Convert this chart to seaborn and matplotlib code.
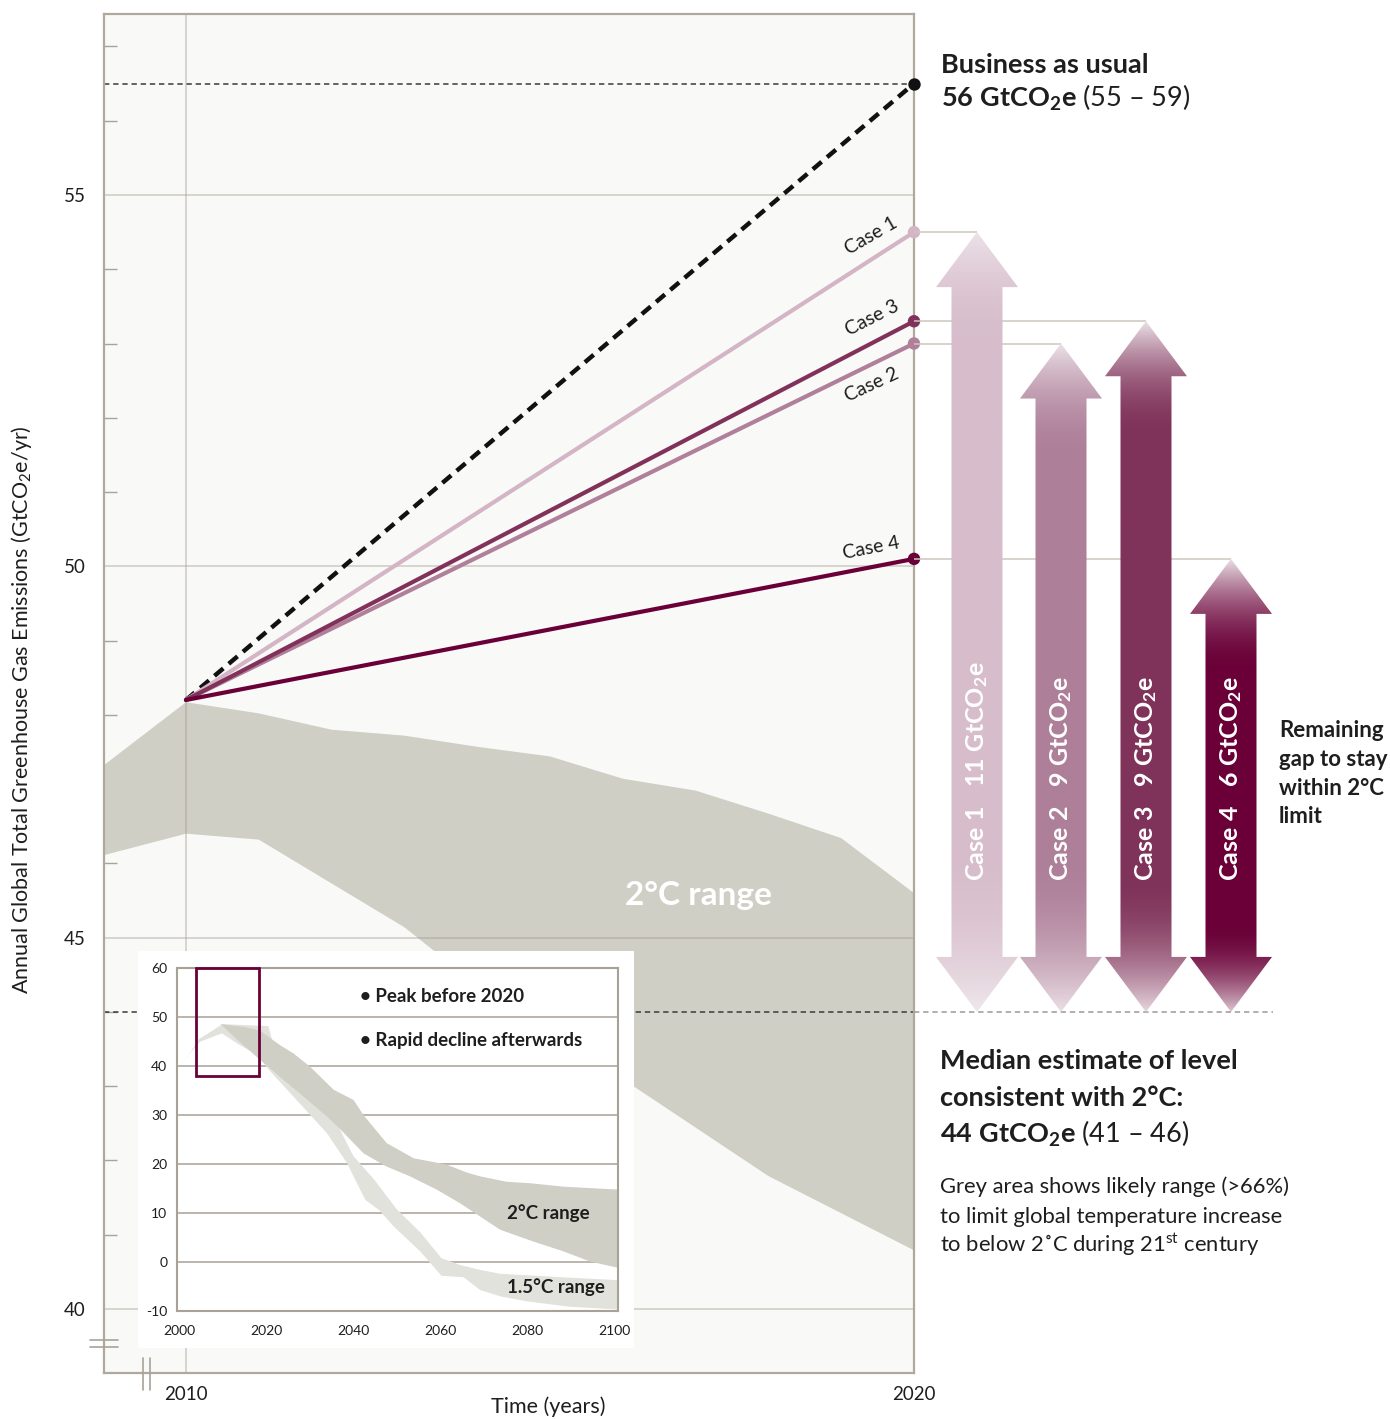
import numpy as np
import pandas as pd
import matplotlib
matplotlib.use("Agg")
import matplotlib.pyplot as plt
import seaborn as sns
from matplotlib.patches import Polygon, Rectangle
from matplotlib.lines import Line2D
from matplotlib.colors import to_rgb
from matplotlib.ticker import MultipleLocator

# ---------------- data ----------------
base_year = 2010
end_year = 2020
start_level = 48.2
bau_level = 56.5
case_names = ["Case 1", "Case 2", "Case 3", "Case 4"]
case_levels = [54.5, 53.0, 53.3, 50.1]
case_colors = ["#d3b5c5", "#b0809a", "#82325a", "#6a0037"]
gap_values = [11, 9, 9, 6]
median_level = 44.0

band_upper_years = [2008.87, 2010, 2011, 2012, 2013, 2014, 2015, 2016, 2017, 2018, 2019, 2020]
band_upper_vals = [47.32, 48.17, 48.02, 47.80, 47.72, 47.57, 47.44, 47.14, 46.98, 46.67, 46.34, 45.60]
band_lower_years = [2008.87, 2010, 2011, 2012, 2013, 2014, 2015, 2016.1, 2018, 2020]
band_lower_vals = [46.11, 46.40, 46.32, 45.73, 45.14, 44.36, 43.69, 43.03, 41.79, 40.79]

main_yticks = [40, 45, 50, 55]
main_xticks = [2010, 2020]

# inset: 1.5 C range (light)
r15_upper_years = [2000, 2002, 2004.5, 2010, 2020.5, 2021.5, 2026, 2032, 2037, 2040.1, 2044.7, 2047.7,
                   2050, 2055.5, 2060.3, 2064.6, 2069.2, 2073.8, 2080, 2090, 2101]
r15_upper_vals = [40, 42, 45.5, 48.6, 48.2, 45.0, 40.0, 33.5, 27.0, 21.6, 17.0, 13.5,
                  10.8, 6.0, 0.8, -0.6, -1.6, -2.4, -2.7, -3.2, -3.7]
r15_lower_years = [2000, 2004.8, 2009.8, 2014, 2018, 2021, 2027, 2034, 2038.6, 2042.8, 2046, 2049.3,
                   2055.4, 2060.3, 2065.4, 2069.2, 2073.8, 2079.8, 2089.4, 2101]
r15_lower_vals = [40, 45, 46.7, 44.3, 42.3, 38.9, 33.1, 26.3, 20.2, 12.7, 10.6, 7.3,
                  2.2, -2.8, -3.1, -5.7, -7.0, -8.0, -9.1, -9.7]
# inset: 2 C range (darker)
r2_upper_years = [2009.5, 2015, 2018.5, 2021, 2023.2, 2026.3, 2030.1, 2035.5, 2040.1, 2042.4, 2047.7,
                  2053.9, 2061.5, 2066.1, 2069.2, 2075.3, 2080.7, 2088.3, 2101]
r2_upper_vals = [48.6, 48.0, 47.3, 45.7, 44.3, 42.6, 39.9, 35.2, 33.1, 30.0, 24.3,
                 21.2, 19.9, 18.3, 17.5, 16.4, 16.1, 15.4, 14.8]
r2_lower_years = [2009.5, 2014, 2018.6, 2024, 2028.6, 2034, 2037.4, 2042.4, 2047.7, 2053.1,
                  2059.2, 2064.6, 2069.2, 2073.8, 2081.4, 2088.3, 2094.5, 2101]
r2_lower_vals = [48.6, 44.9, 41.3, 37.2, 33.8, 29.7, 26.8, 22.2, 19.5, 17.5,
                 14.8, 12.0, 9.3, 6.6, 4.2, 2.2, 0.1, -1.2]
inset_yticks = [-10, 0, 10, 20, 30, 40, 50, 60]
inset_xticks = [2000, 2020, 2040, 2060, 2080, 2100]
focus_years = [2003.8, 2018.3]
focus_levels = [38.0, 60.0]

# ---------------- style ----------------
sns.set_theme(style="white")
plt.rcParams["font.family"] = ["Lato", "DejaVu Sans"]
plt.rcParams["mathtext.fontset"] = "custom"
plt.rcParams["mathtext.rm"] = "Lato"
plt.rcParams["mathtext.bf"] = "Lato:bold"
plt.rcParams["mathtext.it"] = "Lato:italic"

W, H = 1390, 1419
fig = plt.figure(figsize=(W / 100, H / 100), dpi=100)
fig.patch.set_facecolor("white")


def fx(x):
    return x / W


def fy(y):
    return 1 - y / H


def ftext(x, y, s, **kw):
    return fig.text(fx(x), fy(y), s, **kw)


TXT = "#1e1e1e"
SPINE = "#aea89d"
BAND = "#cfcfc6"

# ---------------- main axes ----------------
ax = fig.add_axes([fx(104), fy(1373), fx(914) - fx(104), fy(14) - fy(1373)])
ax.set_facecolor("#f9f9f7")
ylo, yhi = 39.138, 57.437
ax.set_xlim(2008.874, 2020)
ax.set_ylim(ylo, yhi)

ax.fill(np.concatenate([band_upper_years, band_lower_years[::-1]]),
        np.concatenate([band_upper_vals, band_lower_vals[::-1]]),
        color=BAND, lw=0, zorder=1)

for yv in main_yticks:
    ax.axhline(yv, color="#a0978a", alpha=0.4, lw=1.3, zorder=1.5)
ax.axvline(main_xticks[0], color="#a0978a", alpha=0.4, lw=1.3, zorder=1.5)

# reference dashed lines
ax.axhline(bau_level, color="#3a3a3a", lw=1.1, dashes=(3.5, 2.5), zorder=2)
ax.axhline(median_level, color="#3a3a3a", lw=1.1, dashes=(3.5, 2.5), zorder=2)

# business as usual
ax.plot([base_year, end_year], [start_level, bau_level], color="#111111", lw=3.2,
        dashes=(2.6, 1.6), zorder=4, solid_capstyle="butt")
ax.scatter([end_year], [bau_level], s=80, color="#111111", zorder=7, clip_on=False, lw=0)

rows = []
for n, v in zip(case_names, case_levels):
    rows.append((n, base_year, start_level))
    rows.append((n, end_year, v))
df = pd.DataFrame(rows, columns=["case", "year", "value"])
pal = dict(zip(case_names, case_colors))
sns.lineplot(data=df, x="year", y="value", hue="case", hue_order=case_names,
             palette=pal, linewidth=3.0, legend=False, ax=ax, zorder=5)
sns.scatterplot(data=df[df.year == end_year], x="year", y="value", hue="case",
                hue_order=case_names, palette=pal, s=80, legend=False, ax=ax,
                zorder=6, linewidth=0, clip_on=False)

ax.set_xlabel("")
ax.set_ylabel("")
ax.set_xticks(main_xticks)
ax.set_xticklabels([str(v) for v in main_xticks])
ax.set_yticks(main_yticks)
ax.set_yticklabels([str(v) for v in main_yticks])
ax.yaxis.set_minor_locator(MultipleLocator(1))
ax.tick_params(axis="y", which="major", length=0, labelsize=13.5, pad=13, labelcolor=TXT)
ax.tick_params(axis="y", which="minor", direction="in", length=9.5, width=1.0,
               color="#a9a398", left=True)
ax.tick_params(axis="x", which="major", length=0, labelsize=13.5, pad=9, labelcolor=TXT)
ax.grid(False)
for s in ax.spines.values():
    s.set_color(SPINE)
    s.set_linewidth(1.6)
    s.set_visible(True)

# case labels along lines
case_label_pos = [(871, 236, 30), (872, 385, 25), (872, 318, 27), (871, 548, 11)]
for n, (px, py, rot) in zip(case_names, case_label_pos):
    ftext(px, py, n, fontsize=14, color=TXT, rotation=rot, ha="center", va="center",
          rotation_mode="anchor")

ftext(698, 895, "2°C range", fontsize=24, color="white", weight="bold", ha="center", va="center")

# axis labels
ftext(548, 1407, "Time (years)", fontsize=15.5, color=TXT, ha="center", va="center")
ftext(22, 710, r"Annual Global Total Greenhouse Gas Emissions (GtCO$_2$e/yr)", fontsize=15.5,
      color=TXT, ha="center", va="center", rotation=90)

# axis break marks
for yy in (1340, 1347):
    fig.add_artist(Line2D([fx(90), fx(118)], [fy(yy), fy(yy)], color="#a9a398", lw=1.2))
for xx in (143, 150):
    fig.add_artist(Line2D([fx(xx), fx(xx)], [fy(1358), fy(1390)], color="#a9a398", lw=1.2))

# ---------------- arrows axes ----------------
axr = fig.add_axes([fx(914), fy(1373), fx(1390) - fx(914), fy(14) - fy(1373)])
axr.set_facecolor("none")
axr.axis("off")

px_per_unit = 1114.0 / (55 - 40)  # vertical pixels per GtCO2e
head_len = 55 / px_per_unit
fade_top = [60 / px_per_unit] * 4
fade_bot = [v / px_per_unit for v in (110, 100, 80, 35)]
half_shaft = 25.5
half_head = 41
arrow_x = [977, 1061, 1146, 1231]
arrow_cols = ["#d7bdcb", "#ae7f99", "#80335a", "#6a0037"]
tip_top_col = "#ece2e8"
tip_bot_cols = ["#efe7eb", "#ebdfe5", "#e6d6de", "#dcc6d1"]

# connector lines and median dash
for cx, lvl in zip(arrow_x, case_levels):
    axr.plot([914, cx], [lvl, lvl], color="#cdc8be", lw=1.1, zorder=1, solid_capstyle="butt")
axr.plot([914, 1273], [median_level, median_level], color="#9a9a9a", lw=1.1,
         dashes=(3.5, 2.5), zorder=1)

for i, (cx, lvl, col) in enumerate(zip(arrow_x, case_levels, arrow_cols)):
    top, bot = lvl, median_level
    pts = [(cx, top), (cx + half_head, top - head_len), (cx + half_shaft, top - head_len),
           (cx + half_shaft, bot + head_len), (cx + half_head, bot + head_len), (cx, bot),
           (cx - half_head, bot + head_len), (cx - half_shaft, bot + head_len),
           (cx - half_shaft, top - head_len), (cx - half_head, top - head_len)]
    poly = Polygon(pts, closed=True, transform=axr.transData, facecolor="none", edgecolor="none")
    axr.add_patch(poly)
    ys = np.linspace(bot, top, 900)
    c = np.array(to_rgb(col))
    ct = np.array(to_rgb(tip_top_col))
    cb = np.array(to_rgb(tip_bot_cols[i]))
    s_bot = bot + head_len + fade_bot[i]
    s_top = top - head_len - fade_top[i]
    t_b = np.clip((s_bot - ys) / (s_bot - bot), 0, 1) ** 2
    t_t = np.clip((ys - s_top) / (top - s_top), 0, 1) ** 2
    img = (c[None, :] * (1 - t_b[:, None] - t_t[:, None]) + cb[None, :] * t_b[:, None]
           + ct[None, :] * t_t[:, None])
    img = np.clip(img, 0, 1)[:, None, :]
    im = axr.imshow(img, extent=(cx - half_head, cx + half_head, bot, top), origin="lower",
                    aspect="auto", interpolation="bilinear", zorder=2)
    im.set_clip_path(poly)
    label = r"$\mathbf{%s\ \ \ %d\ GtCO_2e}$" % (case_names[i].replace(" ", r"\ "), gap_values[i])
    axr.text(cx, 45 + (938 - 881) / px_per_unit, label, rotation=90, ha="center", va="bottom",
             color="white", fontsize=18, zorder=3)

axr.set_xlim(914, 1390)
axr.set_ylim(ylo, yhi)

# ---------------- right-hand texts ----------------
ftext(941, 73, "Business as usual", fontsize=19.5, weight="bold", color=TXT, va="baseline")
ftext(941, 107, r"$\mathbf{56\ GtCO_2e}$ (55 – 59)", fontsize=19.5, color=TXT, va="baseline")

ftext(940, 1069, "Median estimate of level", fontsize=19.5, weight="bold", color=TXT, va="baseline")
ftext(940, 1106, "consistent with 2°C:", fontsize=19.5, weight="bold", color=TXT, va="baseline")
ftext(940, 1143, r"$\mathbf{44\ GtCO_2e}$ (41 – 46)", fontsize=19.5, color=TXT, va="baseline")

ftext(940, 1193, "Grey area shows likely range (>66%)", fontsize=15.8, color=TXT, va="baseline")
ftext(940, 1223, "to limit global temperature increase", fontsize=15.8, color=TXT, va="baseline")
ftext(940, 1252, r"to below 2˚C during 21$^{\mathrm{st}}$ century", fontsize=15.8, color=TXT, va="baseline")

for yy, s in zip([737, 766, 795, 823], ["Remaining", "gap to stay", "within 2°C", "limit"]):
    ftext(1279, yy, s, fontsize=16, weight="bold", color=TXT, va="baseline")

# ---------------- inset ----------------
axbg = fig.add_axes([fx(138), fy(1348), fx(634) - fx(138), fy(951) - fy(1348)])
axbg.set_facecolor("white")
axbg.set_xticks([])
axbg.set_yticks([])
for s in axbg.spines.values():
    s.set_visible(False)

axi = fig.add_axes([fx(177), fy(1311), fx(618) - fx(177), fy(968.3) - fy(1311)])
axi.set_facecolor("white")
axi.set_xlim(1999.5, 2100.9)
axi.set_ylim(-10, 60)
for yv in inset_yticks[1:-1]:
    axi.axhline(yv, color="#a8a196", lw=1.1, zorder=0.5)
axi.fill(np.concatenate([r15_upper_years, r15_lower_years[::-1]]),
         np.concatenate([r15_upper_vals, r15_lower_vals[::-1]]), color="#e2e2dc", lw=0, zorder=1)
axi.fill(np.concatenate([r2_upper_years, r2_lower_years[::-1]]),
         np.concatenate([r2_upper_vals, r2_lower_vals[::-1]]), color=BAND, lw=0, zorder=1.2)
axi.add_patch(Rectangle((focus_years[0], focus_levels[0]), focus_years[1] - focus_years[0],
                        focus_levels[1] - focus_levels[0], fill=False, edgecolor="#6a0037",
                        lw=2.0, zorder=3, clip_on=False))
axi.set_xticks(inset_xticks)
axi.set_xticklabels([str(v) for v in inset_xticks])
axi.set_yticks(inset_yticks)
axi.set_yticklabels([str(v) for v in inset_yticks])
axi.tick_params(length=0, labelsize=10, labelcolor=TXT)
axi.tick_params(axis="x", pad=10)
axi.tick_params(axis="y", pad=7)
axi.grid(False)
for s in axi.spines.values():
    s.set_color("#a8a196")
    s.set_linewidth(1.5)

axi.text(2041.5, 54.3, "• Peak before 2020", fontsize=13.5, weight="bold", color=TXT, va="center")
axi.text(2041.5, 45.2, "• Rapid decline afterwards", fontsize=13.5, weight="bold", color=TXT, va="center")
axi.text(2075.4, 9.9, "2°C range", fontsize=13.5, weight="bold", color=TXT, va="center")
axi.text(2075.4, -5.2, "1.5°C range", fontsize=13.5, weight="bold", color=TXT, va="center")

fig.savefig("out.png", dpi=100, facecolor="white")
